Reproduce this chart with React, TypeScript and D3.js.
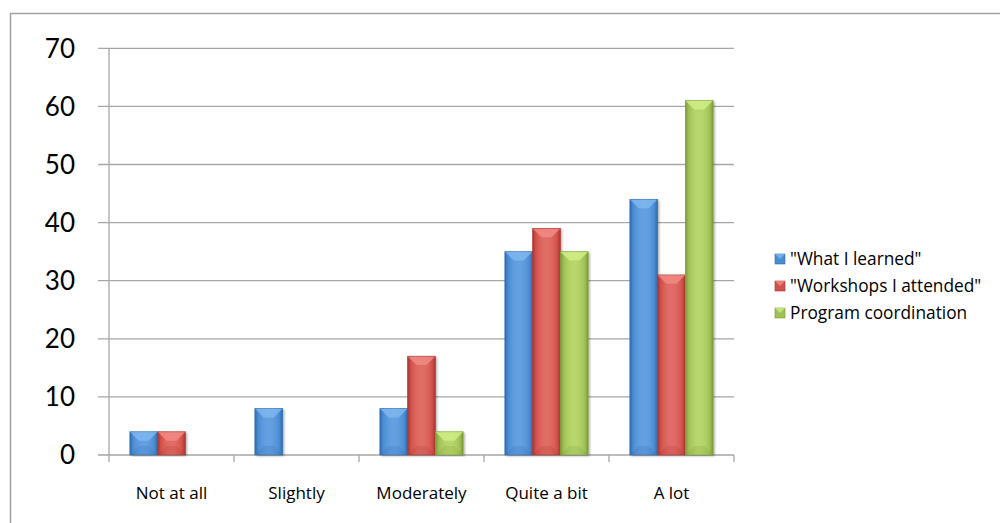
import React from "react";
import * as d3 from "d3";

const categories = ["Not at all", "Slightly", "Moderately", "Quite a bit", "A lot"];
const seriesNames = ['"What I learned"', '"Workshops I attended"', "Program coordination"];
const learned = [4, 8, 8, 35, 44];
const workshops = [4, 0, 17, 39, 31];
const coordination = [0, 0, 4, 35, 61];
const yTicks = [0, 10, 20, 30, 40, 50, 60, 70];

const seriesValues = [learned, workshops, coordination];
const colors = [
  { base: "#4a8bd2", light: "#7fb6ef", dark: "#2f6aad" },
  { base: "#d2504a", light: "#f08a84", dark: "#a8342f" },
  { base: "#9fc054", light: "#d0ec86", dark: "#7a9a36" },
];

const W = 1000;
const H = 523;
const left = 109;
const right = 734;
const top = 48.3;
const bottom = 455;

export default function App() {
  const x = d3.scaleBand<string>().domain(categories).range([left, right]);
  const y = d3.scaleLinear().domain([0, 70]).range([bottom, top]);
  const bw = x.bandwidth() / 4.5;
  const inner = d3
    .scaleBand<number>()
    .domain([0, 1, 2])
    .range([0.75 * bw, 3.75 * bw]);
  const font = "'Open Sans', sans-serif";
  const numFont = "Lato, 'Open Sans', sans-serif";

  return (
    <svg width={W} height={H} style={{ position: "absolute", left: 0, top: 0, background: "#fff" }}>
      <defs>
        {colors.map((c, i) => (
          <linearGradient key={i} id={`g${i}`} x1="0" x2="1" y1="0" y2="0">
            <stop offset="0" stopColor={c.dark} />
            <stop offset="0.12" stopColor={c.base} />
            <stop offset="0.5" stopColor={c.light} stopOpacity={0.5} />
            <stop offset="0.88" stopColor={c.base} />
            <stop offset="1" stopColor={c.dark} />
          </linearGradient>
        ))}
        <filter id="sh" x="-20%" y="-5%" width="140%" height="110%">
          <feDropShadow dx="1.5" dy="1" stdDeviation="1.2" floodColor="#000" floodOpacity="0.35" />
        </filter>
      </defs>
      <rect x={10.5} y={13.5} width={W} height={H} fill="#fff" stroke="#a0a0a0" strokeWidth={1.5} />
      {yTicks.map((t) => (
        <g key={t}>
          <line x1={left - 11} x2={right} y1={y(t)} y2={y(t)} stroke="#a6a6a6" strokeWidth={1.3} />
          <text
            x={75}
            y={y(t)}
            dy="0.36em"
            textAnchor="end"
            fontFamily={numFont}
            fontSize={26}
            fill="#000"
          >
            {t}
          </text>
        </g>
      ))}
      <line x1={left} x2={left} y1={top} y2={bottom} stroke="#a6a6a6" strokeWidth={1.3} />
      {d3.range(categories.length + 1).map((i) => {
        const xx = left + i * x.step();
        return <line key={i} x1={xx} x2={xx} y1={bottom} y2={bottom + 7} stroke="#a6a6a6" strokeWidth={1.3} />;
      })}
      {categories.map((cat, ci) => (
        <g key={cat}>
          {seriesValues.map((vals, si) => {
            const v = vals[ci];
            if (v <= 0) return null;
            const x0 = (x(cat) as number) + (inner(si) as number);
            const w = inner.bandwidth();
            const y0 = y(v);
            const h = bottom - y0;
            const bev = Math.min(w * 0.32, h / 2);
            const c = colors[si];
            return (
              <g key={si}>
                <rect x={x0} y={y0} width={w} height={h} fill={c.base} filter="url(#sh)" />
                <rect x={x0} y={y0} width={w} height={h} fill={`url(#g${si})`} />
                <path
                  d={`M${x0},${y0}L${x0 + w},${y0}L${x0 + w - bev},${y0 + bev}L${x0 + bev},${y0 + bev}Z`}
                  fill={c.light}
                  opacity={0.85}
                />
                <path
                  d={`M${x0},${bottom}L${x0 + w},${bottom}L${x0 + w - bev},${bottom - bev}L${x0 + bev},${bottom - bev}Z`}
                  fill={c.dark}
                  opacity={0.2}
                />
                <rect x={x0} y={y0} width={w} height={h} fill="none" stroke={c.dark} strokeOpacity={0.6} strokeWidth={0.8} />
              </g>
            );
          })}
          <text
            x={(x(cat) as number) + x.bandwidth() / 2}
            y={493}
            dy="0.35em"
            textAnchor="middle"
            fontFamily={font}
            fontSize={17}
            fill="#000"
          >
            {cat}
          </text>
        </g>
      ))}
      {seriesNames.map((name, i) => {
        const ly = 259 + i * 27;
        const c = colors[i];
        return (
          <g key={name}>
            <rect x={775} y={ly - 5} width={10} height={10} fill={c.base} stroke={c.dark} strokeWidth={0.6} />
            <path d={`M775,${ly - 5}L785,${ly - 5}L780,${ly}Z`} fill={c.light} opacity={0.8} />
            <text x={790} y={ly} dy="0.35em" fontFamily={font} fontSize={17.3} fill="#000">
              {name}
            </text>
          </g>
        );
      })}
    </svg>
  );
}
